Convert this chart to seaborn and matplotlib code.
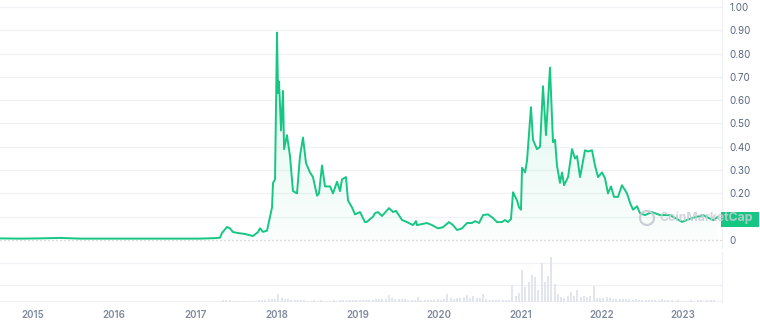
import matplotlib
matplotlib.use("Agg")
import numpy as np
import pandas as pd
import seaborn as sns
import matplotlib.pyplot as plt
from matplotlib.patches import Rectangle, Circle, Polygon
from matplotlib.transforms import IdentityTransform

sns.set_theme(style="white")
plt.rcParams["font.family"] = ["Inter", "DejaVu Sans"]

# ---------------- data ----------------
price_years = [
    2014.594, 2014.840, 2015.086, 2015.332, 2015.579, 2015.825, 2016.071, 2016.317,
    2016.563, 2016.809, 2017.055, 2017.240, 2017.302, 2017.326, 2017.388, 2017.425,
    2017.462, 2017.523, 2017.609, 2017.708, 2017.769, 2017.794, 2017.831, 2017.880,
    2017.917, 2017.942, 2017.954, 2017.979, 2018.003, 2018.016, 2018.028, 2018.053,
    2018.077, 2018.090, 2018.126, 2018.163, 2018.200, 2018.249, 2018.286, 2018.323,
    2018.360, 2018.409, 2018.446, 2018.496, 2018.520, 2018.557, 2018.594, 2018.656,
    2018.692, 2018.742, 2018.779, 2018.803, 2018.852, 2018.877, 2018.926, 2018.963,
    2019.025, 2019.086, 2019.111, 2019.148, 2019.185, 2019.209, 2019.246, 2019.295,
    2019.382, 2019.431, 2019.468, 2019.542, 2019.603, 2019.677, 2019.714, 2019.726,
    2019.849, 2019.911, 2019.985, 2020.046, 2020.120, 2020.169, 2020.219, 2020.280,
    2020.342, 2020.403, 2020.440, 2020.490, 2020.539, 2020.600, 2020.662, 2020.711,
    2020.773, 2020.809, 2020.846, 2020.883, 2020.908, 2020.957, 2020.982, 2021.006,
    2021.019, 2021.056, 2021.080, 2021.129, 2021.154, 2021.203, 2021.240, 2021.277,
    2021.314, 2021.363, 2021.400, 2021.425, 2021.449, 2021.486, 2021.511, 2021.536,
    2021.585, 2021.634, 2021.671, 2021.696, 2021.733, 2021.794, 2021.831, 2021.880,
    2021.917, 2021.954, 2022.003, 2022.040, 2022.077, 2022.114, 2022.151, 2022.200,
    2022.249, 2022.311, 2022.348, 2022.385, 2022.434, 2022.471, 2022.532, 2022.618,
    2022.717, 2022.840, 2022.988, 2023.111, 2023.246, 2023.372, 2023.431,
]
price_values = [
    0.007, 0.006, 0.007, 0.009, 0.006, 0.006, 0.006, 0.006,
    0.006, 0.006, 0.006, 0.008, 0.010, 0.030, 0.056, 0.050,
    0.034, 0.030, 0.026, 0.017, 0.034, 0.050, 0.035, 0.040,
    0.100, 0.140, 0.245, 0.260, 0.890, 0.630, 0.680, 0.470,
    0.640, 0.390, 0.450, 0.360, 0.210, 0.200, 0.360, 0.440,
    0.330, 0.290, 0.270, 0.190, 0.200, 0.320, 0.230, 0.230,
    0.200, 0.250, 0.210, 0.260, 0.270, 0.170, 0.140, 0.110,
    0.120, 0.077, 0.078, 0.090, 0.100, 0.115, 0.120, 0.103,
    0.137, 0.120, 0.125, 0.086, 0.077, 0.064, 0.081, 0.064,
    0.073, 0.064, 0.050, 0.055, 0.077, 0.064, 0.043, 0.050,
    0.073, 0.073, 0.081, 0.073, 0.107, 0.110, 0.094, 0.077,
    0.077, 0.086, 0.077, 0.090, 0.205, 0.170, 0.140, 0.130,
    0.310, 0.290, 0.340, 0.570, 0.430, 0.390, 0.400, 0.660,
    0.450, 0.740, 0.420, 0.430, 0.320, 0.245, 0.290, 0.235,
    0.270, 0.390, 0.350, 0.360, 0.270, 0.385, 0.380, 0.385,
    0.320, 0.270, 0.290, 0.265, 0.200, 0.230, 0.185, 0.185,
    0.235, 0.200, 0.160, 0.130, 0.145, 0.115, 0.107, 0.120,
    0.107, 0.107, 0.078, 0.094, 0.107, 0.085, 0.100,
]

# volume: regular ~2-week grid starting 2017.30 (arbitrary units)
volume_start_year = 2017.30
volume_step_years = 0.04
volume_values = [
    1.2, 1.5, 1.5, 1.3, 1.2, 1.2, 1.0, 1.0, 1.2, 1.0,
    1.0, 1.2, 1.4, 1.6, 2.0, 2.5, 3.0, 2.5, 7.7, 3.5,
    3.2, 2.5, 2.0, 1.8, 1.5, 1.8, 1.3, 1.2, 1.2, 1.5,
    1.2, 1.3, 1.2, 1.0, 1.0, 1.3, 1.2, 1.5, 1.4, 1.6,
    1.3, 1.5, 1.8, 1.7, 1.6, 2.0, 1.8, 2.2, 2.5, 2.4,
    2.8, 3.0, 6.7, 3.3, 3.0, 2.8, 3.2, 2.5, 2.0, 1.6,
    1.8, 4.3, 1.5, 1.6, 1.5, 1.8, 2.2, 2.5, 2.0, 2.5,
    7.3, 3.3, 3.0, 3.5, 4.0, 4.5, 6.7, 4.0, 6.0, 4.0,
    3.5, 7.3, 2.5, 2.0, 1.7, 1.5, 1.6, 1.5, 1.7, 2.0,
    17.0, 6.0, 9.0, 32.0, 15.0, 20.0, 27.0, 25.0, 11.7, 39.0,
    20.0, 26.0, 44.7, 18.0, 8.0, 5.0, 4.0, 6.0, 10.0, 6.0,
    12.0, 5.0, 6.0, 5.0, 6.0, 16.0, 4.0, 3.5, 4.0, 5.0,
    3.5, 3.0, 3.2, 3.0, 2.8, 2.5, 2.4, 2.2, 2.5, 2.0,
    2.2, 2.0, 1.8, 1.7, 2.0, 1.6, 2.5, 1.5, 1.4, 1.5,
    1.2, 1.3, 1.2, 1.1, 1.2, 1.3, 1.2, 1.4, 1.3, 1.2,
    1.4, 1.3, 1.5,
]
volume_years = volume_start_year + volume_step_years * np.arange(len(volume_values))

year_ticks = [2015, 2016, 2017, 2018, 2019, 2020, 2021, 2022, 2023]
year_labels = [str(y) for y in year_ticks]
# the 0.10 label is hidden behind the current-price box in the reference
price_ticks = [0, 0.2, 0.3, 0.4, 0.5, 0.6, 0.7, 0.8, 0.9, 1.0]
price_labels = ["0", "0.20", "0.30", "0.40", "0.50", "0.60", "0.70", "0.80", "0.90", "1.00"]
grid_levels = [0.1, 0.2, 0.3, 0.4, 0.5, 0.6, 0.7, 0.8, 0.9, 1.0]
watermark_text = "CoinMarketCap"

# ---------------- styling ----------------
GREEN = "#16c784"
GRID = "#f0f2f5"
TICK_COLOR = "#58667e"
XTICK_COLOR = "#808a9d"
x_range = (2014.594, 2023.480)

W, H = 760, 324
fig = plt.figure(figsize=(W / 100, H / 100), dpi=100)
fig.patch.set_facecolor("white")

ax = fig.add_axes([0, 1 - 248 / H, 722 / W, 248 / H])
axv = fig.add_axes([0, 1 - 301.7 / H, 722 / W, 50 / H], sharex=ax)

df = pd.DataFrame({"year": price_years, "price": price_values})

# gradient fill under the line
verts = [(price_years[0], 0)] + list(zip(price_years, price_values)) + [(price_years[-1], 0)]
poly = Polygon(verts, closed=True, facecolor="none", edgecolor="none")
ax.add_patch(poly)
ymax = max(price_values)
n = 256
alphas = np.linspace(0.16, 0.02, n).reshape(-1, 1)
rgba = np.zeros((n, 1, 4))
rgba[..., 0] = 22 / 255
rgba[..., 1] = 199 / 255
rgba[..., 2] = 132 / 255
rgba[..., 3] = alphas
img = ax.imshow(rgba, extent=[price_years[0], price_years[-1], 0, ymax],
                aspect="auto", origin="upper", zorder=1, interpolation="bilinear")
img.set_clip_path(poly)

sns.lineplot(data=df, x="year", y="price", ax=ax, color=GREEN, linewidth=1.4,
             estimator=None, sort=True, zorder=3)

ax.set_xlim(*x_range)
ax.set_ylim(-0.0343, 1.0300)
ax.set_xlabel("")
ax.set_ylabel("")

for t in grid_levels:
    ax.axhline(t, color=GRID, lw=0.9, zorder=0)
ax.axhline(0, color="#c3c7cf", lw=0.9, ls=(0, (1, 2.2)), zorder=2)

ax.yaxis.tick_right()
ax.set_yticks(price_ticks)
ax.set_yticklabels(price_labels)
ax.tick_params(axis="y", length=0, pad=5.5, labelsize=7, labelcolor=TICK_COLOR)
ax.tick_params(axis="x", bottom=False, labelbottom=False)
for s in ["top", "left", "bottom"]:
    ax.spines[s].set_visible(False)
ax.spines["right"].set_color("#eef0f3")
ax.spines["right"].set_linewidth(0.9)

# volume panel
axv.bar(volume_years, volume_values, width=0.024, color="#e2e5eb", linewidth=0, zorder=2)
axv.set_ylim(0, 50)
axv.axhline(16.7, color=GRID, lw=0.9, zorder=0)
axv.axhline(39.0, color=GRID, lw=0.9, zorder=0)
axv.axhline(0, color="#eceef2", lw=1.2, zorder=1)
axv.set_yticks([])
axv.set_xticks(year_ticks)
axv.set_xticklabels(year_labels)
axv.tick_params(axis="x", length=0, pad=6, labelsize=7, labelcolor=XTICK_COLOR)
for lab in axv.get_xticklabels():
    lab.set_fontweight("semibold")
for s in ["top", "left", "bottom"]:
    axv.spines[s].set_visible(False)
axv.spines["right"].set_color("#eef0f3")
axv.spines["right"].set_linewidth(0.9)
axv.set_xlim(*x_range)

# current price label box
fig.add_artist(Rectangle((721 / W, 1 - 227 / H), 38 / W, 15 / H,
                         transform=fig.transFigure, facecolor=GREEN,
                         edgecolor="none", zorder=5))

# watermark
fig.add_artist(Circle((647, H - 218), 7, transform=IdentityTransform(),
                      facecolor="none", edgecolor="#c3c7cf", lw=1.6, alpha=0.85, zorder=6))
fig.text(660 / W, 1 - 218 / H, watermark_text, ha="left", va="center",
         fontsize=8.8, fontweight="bold", color="#c9cdd4", alpha=0.85, zorder=7)

fig.savefig("out.png", dpi=100, facecolor="white")
